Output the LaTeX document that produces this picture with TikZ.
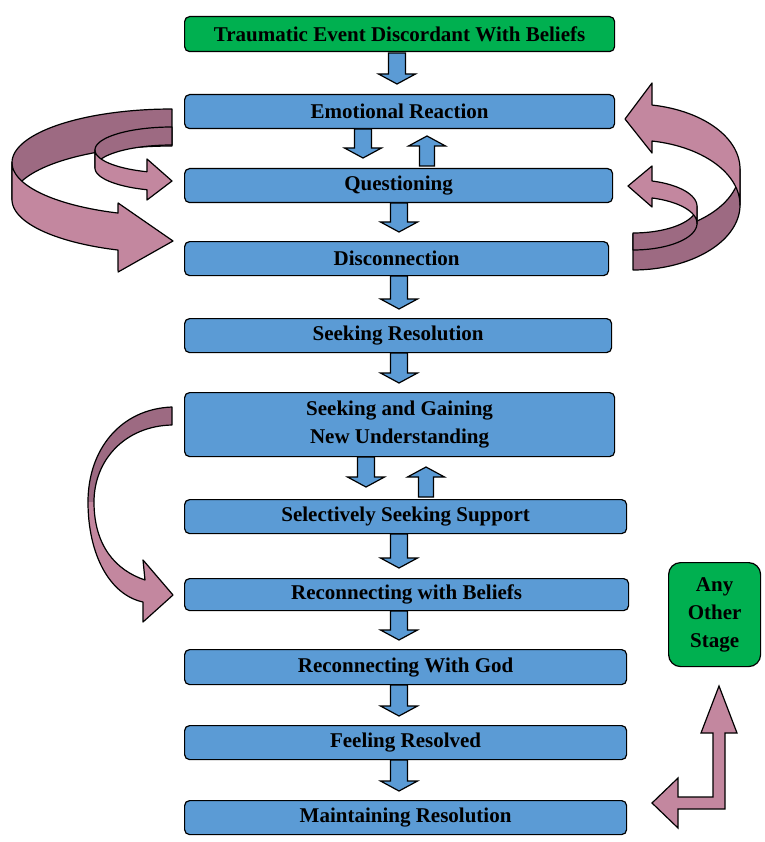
\documentclass[tikz,border=0pt]{standalone}
\usepackage{fontspec}
\setmainfont{Liberation Serif}
\definecolor{boxblue}{HTML}{5B9BD5}
\definecolor{boxgreen}{HTML}{00B050}
\definecolor{pinkL}{HTML}{C3879F}
\definecolor{pinkD}{HTML}{9D6A82}
\newcommand{\BlkDown}[3]{\draw[blk] ({#1-8.5},#2) -- ({#1+8.5},#2) -- ({#1+8.5},{#3-10}) -- ({#1+18.5},{#3-10}) -- (#1,#3) -- ({#1-18.5},{#3-10}) -- ({#1-8.5},{#3-10}) -- cycle;}
\newcommand{\BlkUp}[3]{\draw[blk] ({#1-7.5},#2) -- ({#1-7.5},{#3+10}) -- ({#1-18.5},{#3+10}) -- (#1,#3) -- ({#1+18.5},{#3+10}) -- ({#1+7.5},{#3+10}) -- ({#1+7.5},#2) -- cycle;}
\begin{document}
\begin{tikzpicture}[x=1pt,y=-1pt,
  box/.style={draw=black, line width=1.2pt, fill=boxblue, rounded corners=5pt, anchor=north west,
    inner sep=0pt, font=\fontsize{21}{28}\selectfont\bfseries, text=black, align=center},
  gbox/.style={box, fill=boxgreen},
  blk/.style={draw=black, line width=1.2pt, fill=boxblue, line join=miter},
  rib/.style={draw=black, line width=1.2pt, line join=round},
  ribL/.style={rib, fill=pinkL},
  ribD/.style={rib, fill=pinkD},
  pv/.style={variable=\t, domain=0:1, samples=40}]
\useasboundingbox (0,0) rectangle (764,842);

% ---------- boxes ----------
\node[gbox, minimum width=430pt, minimum height=35pt] (trauma) at (184,16) {Traumatic Event Discordant With Beliefs};
\node[box, minimum width=430pt, minimum height=34pt] (emo) at (184,94) {Emotional Reaction};
\node[box, minimum width=428pt, minimum height=34pt] (ques) at (184,168) {Questioning};
\node[box, minimum width=424pt, minimum height=34pt] (disc) at (184,241) {Disconnection};
\node[box, minimum width=427pt, minimum height=34pt] (seekr) at (184,318) {Seeking Resolution};
\node[box, minimum width=430pt, minimum height=64pt] (sgnu) at (184,392) {Seeking and Gaining\\New Understanding};
\node[box, minimum width=442pt, minimum height=34pt] (sss) at (184,499) {Selectively Seeking Support};
\node[box, minimum width=444pt, minimum height=32pt] (rwb) at (184,578) {Reconnecting with Beliefs};
\node[box, minimum width=442pt, minimum height=35pt] (rwg) at (184,649) {Reconnecting With God};
\node[box, minimum width=442pt, minimum height=34pt] (fr) at (184,725) {Feeling Resolved};
\node[box, minimum width=442pt, minimum height=34pt] (mr) at (184,800) {Maintaining Resolution};
\node[gbox, rounded corners=12pt, minimum width=92pt, minimum height=104pt] (any) at (668,562) {Any\\Other\\Stage};

% ---------- block arrows ----------
\BlkDown{397}{53}{84}
\BlkDown{363}{129}{158}
\BlkUp{427}{166}{136}
\BlkDown{399}{203}{232}
\BlkDown{399}{276}{309}
\BlkDown{399}{353}{383}
\BlkDown{366}{457}{487}
\BlkUp{426}{497}{467}
\BlkDown{399}{534}{568}
\BlkDown{399}{611}{640}
\BlkDown{399}{685}{716}
\BlkDown{399}{760}{791}

% ---------- left ribbon arrows ----------
% big, back face
\draw[ribD] plot[pv] ({172+160*cos(-90-90*\t)},{162.6+53.6*sin(-90-90*\t)})
  -- plot[pv] ({172+160*cos(-180+90*\t)},{162.6+37+53.6*sin(-180+90*\t)}) -- cycle;
% small, back face
\draw[ribD] plot[pv] ({172+77*cos(-90-90*\t)},{150+23*sin(-90-90*\t)})
  -- plot[pv] ({172+77*cos(-180+90*\t)},{150+18+23*sin(-180+90*\t)}) -- cycle;
% small, front face
\draw[ribL] plot[pv] ({172+77*cos(180-71.05*\t)},{150+23*sin(180-71.05*\t)})
  -- (147,159) -- (172,181) -- (147,200)
  -- plot[pv] ({172+77*cos(108.95+71.05*\t)},{150+18+23*sin(108.95+71.05*\t)}) -- cycle;
% big, front face
\draw[ribL] plot[pv] ({172+160*cos(180-70.3*\t)},{162.6+53.6*sin(180-70.3*\t)})
  -- (118.1,203) -- (173,241) -- (118.1,272)
  -- plot[pv] ({172+160*cos(109.7+70.3*\t)},{162.6+37+53.6*sin(109.7+70.3*\t)}) -- cycle;

% ---------- right ribbon arrows ----------
% big, back face
\draw[ribD] plot[pv] ({633+107*cos(90-90*\t)},{205+65*sin(90-90*\t)})
  -- plot[pv] ({633+107*cos(90*\t)},{205-36+65*sin(90*\t)}) -- cycle;
% small, back face
\draw[ribD] plot[pv] ({633+64*cos(90-90*\t)},{223.4+26.6*sin(90-90*\t)})
  -- plot[pv] ({633+64*cos(90*\t)},{223.4-17+26.6*sin(90*\t)}) -- cycle;
% small, front face
\draw[ribL] plot[pv] ({633+64*cos(-72.73*\t)},{223.4+26.6*sin(-72.73*\t)})
  -- (652,207) -- (628,186) -- (652,166)
  -- plot[pv] ({633+64*cos(-72.73+72.73*\t)},{223.4-17+26.6*sin(-72.73+72.73*\t)}) -- cycle;
% big, front face
\draw[ribL] plot[pv] ({633+107*cos(-79.77*\t)},{205+65*sin(-79.77*\t)})
  -- (652,153) -- (625,119) -- (652,83)
  -- plot[pv] ({633+107*cos(-79.77+79.77*\t)},{205-36+65*sin(-79.77+79.77*\t)}) -- cycle;

% ---------- lower-left curved arrow ----------
\fill[pinkD] (172,407) .. controls (120,409) and (88,450) .. (88,502)
  -- (94,502) .. controls (94,460) and (125,426) .. (172,425) -- cycle;
\fill[pinkL] (88,502) .. controls (88,555) and (110,595) .. (143,602)
  -- (143,622) -- (173,595) -- (143,560) -- (145,580)
  .. controls (115,570) and (94,545) .. (94,502) -- cycle;
\draw[rib] (172,407) .. controls (120,409) and (88,450) .. (88,502)
  .. controls (88,555) and (110,595) .. (143,602)
  -- (143,622) -- (173,595) -- (143,560) -- (145,580)
  .. controls (115,570) and (94,545) .. (94,502)
  .. controls (94,460) and (125,426) .. (172,425) -- cycle;

% ---------- L-shaped arrow ----------
\draw[rib, fill=pinkL, line join=miter] (719,686) -- (737,733) -- (725,733) -- (725,809) -- (678,809)
  -- (678,828) -- (652,803) -- (678,778) -- (678,797) -- (713,797) -- (713,733) -- (701,733) -- cycle;
\end{tikzpicture}
\end{document}
